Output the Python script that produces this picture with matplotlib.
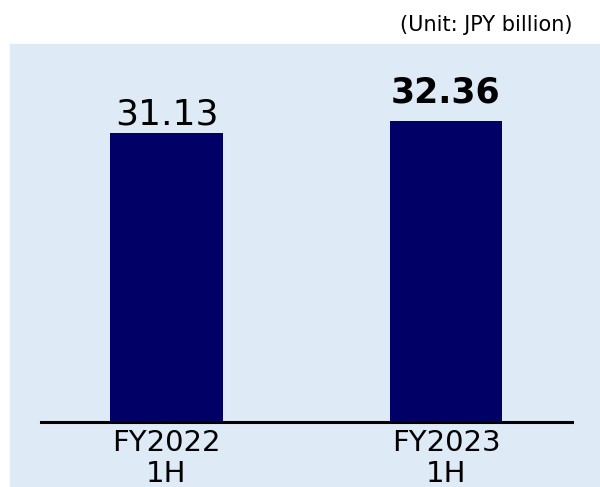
import matplotlib.pyplot as plt
from matplotlib.patches import Rectangle

periods = ['FY2022\n1H', 'FY2023\n1H']
values = [31.13, 32.36]
label_bold = [False, True]
label_gap = [8, 19]  # pixels between bar top and label baseline

fig = plt.figure(figsize=(6, 4.87), dpi=100)
fig.patches.append(Rectangle((10 / 600, 0), 1, (487 - 44) / 487,
                             transform=fig.transFigure, color='#deeaf6', zorder=-5))

ax = fig.add_axes([41 / 600, 65 / 487, 531 / 600, (422 - 44) / 487])
ax.patch.set_alpha(0)
x = range(len(values))
ax.bar(x, values, width=0.404, color='#000066')
ax.set_xlim(-0.449, 1.451)
ax.set_ylim(0, 40.7)

for i, v in enumerate(values):
    ax.annotate(f'{v:.2f}', (i, v), xytext=(0, label_gap[i]), textcoords='offset pixels',
                ha='center', va='baseline', fontsize=25 if label_bold[i] else 26,
                fontweight='bold' if label_bold[i] else 'normal')

ax.set_xticks(list(x))
ax.set_xticklabels(periods, fontsize=21, linespacing=1.15)
ax.tick_params(axis='x', length=0, pad=5)
ax.set_yticks([])
for s in ['top', 'left', 'right']:
    ax.spines[s].set_visible(False)
ax.spines['bottom'].set_linewidth(2.2)

fig.text(400 / 600, 1 - 31 / 487, '(Unit: JPY billion)', fontsize=15, va='baseline', ha='left')

fig.savefig('out.png', dpi=100)
